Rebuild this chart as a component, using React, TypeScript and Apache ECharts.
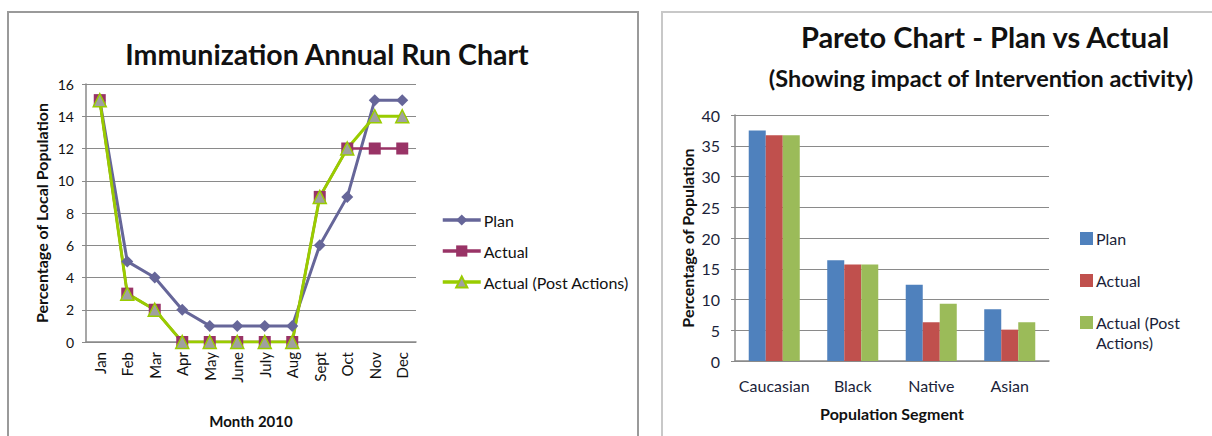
import React, { useEffect, useRef } from "react";
import * as echarts from "echarts";

const months = ["Jan", "Feb", "Mar", "Apr", "May", "June", "July", "Aug", "Sept", "Oct", "Nov", "Dec"];
const planRun = [15, 5, 4, 2, 1, 1, 1, 1, 6, 9, 15, 15];
const actualRun = [15, 3, 2, 0, 0, 0, 0, 0, 9, 12, 12, 12];
const postRun = [15, 3, 2, 0, 0, 0, 0, 0, 9, 12, 14, 14];

const segments = ["Caucasian", "Black", "Native", "Asian"];
const planPareto = [37.5, 16.4, 12.4, 8.4];
const actualPareto = [36.7, 15.7, 6.3, 5.1];
const postPareto = [36.7, 15.7, 9.3, 6.3];

const FONT = "Lato, 'Open Sans', sans-serif";

export default function App() {
  const ref = useRef<HTMLDivElement>(null);
  useEffect(() => {
    document.body.style.margin = "0";
    const chart = echarts.init(ref.current!, null, { renderer: "svg" });
    const axisGrey = "#8a8a8a";
    const option: any = {
      animation: false,
      backgroundColor: "#ffffff",
      textStyle: { fontFamily: FONT },
      graphic: [
        { type: "rect", shape: { x: 8, y: 12, width: 630, height: 450 }, style: { fill: "none", stroke: "#9a9a9a", lineWidth: 2 }, silent: true },
        { type: "rect", shape: { x: 662, y: 12, width: 600, height: 450 }, style: { fill: "none", stroke: "#c8c8c8", lineWidth: 2 }, silent: true },
        { type: "text", left: 1096, top: 334, style: { text: "Actions)", fontFamily: FONT, fontSize: 16, fill: "#1b1f3a" }, silent: true },
      ],
      title: [
        { text: "Immunization Annual Run Chart", left: 322, top: 34, textAlign: "center", textStyle: { fontFamily: FONT, fontSize: 28.5, fontWeight: "bold", color: "#111" } },
        { text: "Pareto Chart - Plan vs Actual", left: 980, top: 17, textAlign: "center", textStyle: { fontFamily: FONT, fontSize: 29, fontWeight: "bold", color: "#111" } },
        { text: "(Showing impact of Intervention activity)", left: 976, top: 61, textAlign: "center", textStyle: { fontFamily: FONT, fontSize: 23.5, fontWeight: "bold", color: "#111" } },
      ],
      legend: [
        {
          orient: "vertical", left: 436, top: 207, padding: 5, itemWidth: 38, itemHeight: 14, itemGap: 15,
          data: ["Plan", "Actual", "Actual (Post Actions)"],
          lineStyle: { width: 3.5 },
          textStyle: { fontFamily: FONT, fontSize: 16, color: "#111", padding: [0, 0, 0, -2] },
        },
        {
          orient: "vertical", left: 1075, top: 224, padding: 5, itemWidth: 13, itemHeight: 13, itemGap: 23, icon: "rect",
          data: ["Plan ", "Actual ", "Actual (Post Actions) "],
          formatter: (n: string) => (n === "Actual (Post Actions) " ? "Actual (Post" : n.trim()),
          textStyle: { fontFamily: FONT, fontSize: 16, color: "#1b1f3a", lineHeight: 19, padding: [0, 0, 0, -2] },
        },
      ],
      grid: [
        { left: 86, top: 84, width: 330, height: 258 },
        { left: 735, top: 115, width: 314, height: 246 },
      ],
      xAxis: [
        {
          gridIndex: 0, type: "category", data: months, boundaryGap: true,
          axisLine: { lineStyle: { color: axisGrey, width: 1.5 } }, axisTick: { show: false },
          axisLabel: { rotate: 90, margin: 10, interval: 0, fontFamily: FONT, fontSize: 15, color: "#111" },
          name: "Month 2010", nameLocation: "middle", nameGap: 71,
          nameTextStyle: { fontFamily: FONT, fontSize: 15, fontWeight: "bold", color: "#111" },
        },
        {
          gridIndex: 1, type: "category", data: segments,
          axisLine: { lineStyle: { color: axisGrey, width: 1.5 } }, axisTick: { show: false },
          axisLabel: { margin: 16, interval: 0, fontFamily: FONT, fontSize: 16, color: "#1b1f3a" },
          name: "Population Segment", nameLocation: "middle", nameGap: 44,
          nameTextStyle: { fontFamily: FONT, fontSize: 16, fontWeight: "bold", color: "#111" },
        },
      ],
      yAxis: [
        {
          gridIndex: 0, type: "value", min: 0, max: 16, interval: 2,
          axisLine: { show: true, lineStyle: { color: axisGrey, width: 1.5 } },
          axisTick: { show: true, length: 4, lineStyle: { color: axisGrey } },
          splitLine: { lineStyle: { color: axisGrey, width: 1 } },
          axisLabel: { margin: 12, fontFamily: FONT, fontSize: 14, color: "#111" },
          name: "Percentage of Local Population", nameLocation: "middle", nameGap: 37, nameRotate: 90,
          nameTextStyle: { fontFamily: FONT, fontSize: 16, fontWeight: "bold", color: "#111" },
        },
        {
          gridIndex: 1, type: "value", min: 0, max: 40, interval: 5,
          axisLine: { show: true, lineStyle: { color: axisGrey, width: 1.5 } },
          axisTick: { show: true, length: 4, lineStyle: { color: axisGrey } },
          splitLine: { lineStyle: { color: axisGrey, width: 1 } },
          axisLabel: { margin: 15, fontFamily: FONT, fontSize: 16, color: "#1b1f3a" },
          name: "Percentage of Population", nameLocation: "middle", nameGap: 40, nameRotate: 90,
          nameTextStyle: { fontFamily: FONT, fontSize: 16, fontWeight: "bold", color: "#111" },
        },
      ],
      series: [
        {
          name: "Plan", type: "line", xAxisIndex: 0, yAxisIndex: 0, data: planRun,
          symbol: "diamond", symbolSize: 12, color: "#666699",
          lineStyle: { color: "#666699", width: 3 }, itemStyle: { color: "#666699" },
        },
        {
          name: "Actual", type: "line", xAxisIndex: 0, yAxisIndex: 0, data: actualRun,
          symbol: "rect", symbolSize: 12, color: "#993366",
          lineStyle: { color: "#993366", width: 2.5 }, itemStyle: { color: "#993366" },
        },
        {
          name: "Actual (Post Actions)", type: "line", xAxisIndex: 0, yAxisIndex: 0, data: postRun,
          symbol: "triangle", symbolSize: 13, color: "#99cc00",
          lineStyle: { color: "#99cc00", width: 3 },
          itemStyle: { color: "#a0a0a0", borderColor: "#99cc00", borderWidth: 1.5 },
        },
        {
          name: "Plan ", type: "bar", xAxisIndex: 1, yAxisIndex: 1, data: planPareto,
          itemStyle: { color: "#4f81bd" }, barGap: "0%", barCategoryGap: "35%",
        },
        {
          name: "Actual ", type: "bar", xAxisIndex: 1, yAxisIndex: 1, data: actualPareto,
          itemStyle: { color: "#c0504d" }, barGap: "0%", barCategoryGap: "35%",
        },
        {
          name: "Actual (Post Actions) ", type: "bar", xAxisIndex: 1, yAxisIndex: 1, data: postPareto,
          itemStyle: { color: "#9bbb59" }, barGap: "0%", barCategoryGap: "35%",
        },
      ],
    };
    chart.setOption(option);
    return () => chart.dispose();
  }, []);
  return <div ref={ref} style={{ position: "absolute", left: 0, top: 0, width: 1212, height: 436 }} />;
}
